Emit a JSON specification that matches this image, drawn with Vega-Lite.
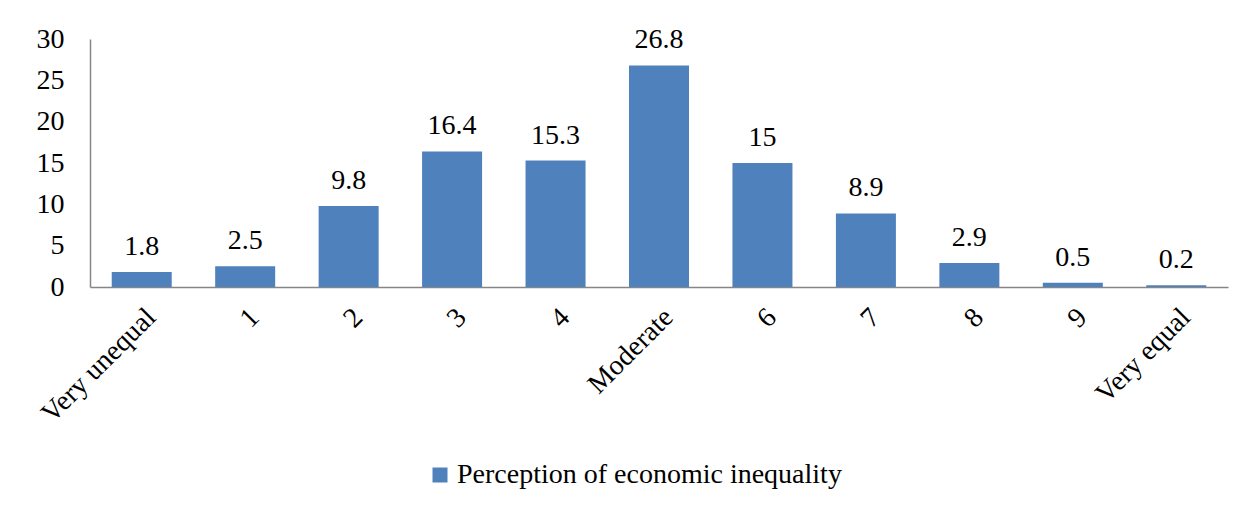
{
  "$schema": "https://vega.github.io/schema/vega-lite/v6.json",
  "autosize": "none",
  "width": 1138,
  "height": 248,
  "padding": {"left": 90, "top": 39, "right": 27, "bottom": 223},
  "background": "white",
  "config": {
    "font": "Liberation Serif",
    "view": {"stroke": null},
    "text": {"font": "Liberation Serif"},
    "axis": {"labelFont": "Liberation Serif", "labelColor": "black", "domainColor": "#868686", "grid": false, "ticks": false},
    "legend": {"labelFont": "Liberation Serif"}
  },
  "data": {
    "values": [
      {"category": "Very unequal", "value": 1.8, "series": "Perception of economic inequality"},
      {"category": "1", "value": 2.5, "series": "Perception of economic inequality"},
      {"category": "2", "value": 9.8, "series": "Perception of economic inequality"},
      {"category": "3", "value": 16.4, "series": "Perception of economic inequality"},
      {"category": "4", "value": 15.3, "series": "Perception of economic inequality"},
      {"category": "Moderate", "value": 26.8, "series": "Perception of economic inequality"},
      {"category": "6", "value": 15, "series": "Perception of economic inequality"},
      {"category": "7", "value": 8.9, "series": "Perception of economic inequality"},
      {"category": "8", "value": 2.9, "series": "Perception of economic inequality"},
      {"category": "9", "value": 0.5, "series": "Perception of economic inequality"},
      {"category": "Very equal", "value": 0.2, "series": "Perception of economic inequality"}
    ]
  },
  "encoding": {
    "x": {
      "field": "category", "type": "nominal", "sort": null,
      "scale": {"paddingInner": 0.42, "paddingOuter": 0.21},
      "axis": {"title": null, "labelAngle": -45, "labelAlign": "right", "labelBaseline": "top", "labelFontSize": 28, "labelPadding": 16, "domainWidth": 1.5}
    },
    "y": {
      "field": "value", "type": "quantitative",
      "scale": {"domain": [0, 30], "nice": false},
      "axis": {"title": null, "values": [0, 5, 10, 15, 20, 25, 30], "labelFontSize": 28, "labelPadding": 26, "domainWidth": 1.5, "labelBaseline": "middle"}
    }
  },
  "layer": [
    {
      "mark": {"type": "bar"},
      "encoding": {
        "color": {
          "field": "series", "type": "nominal",
          "scale": {"range": ["#4F81BD"]},
          "legend": {"title": null, "orient": "none", "legendX": 336, "legendY": 422, "labelFontSize": 28, "labelColor": "black", "symbolType": "square", "symbolSize": 225, "symbolStrokeWidth": 0, "labelOffset": 3, "labelLimit": 700}
        }
      }
    },
    {
      "mark": {"type": "text", "baseline": "alphabetic", "dy": -17, "fontSize": 28, "color": "black", "font": "Liberation Serif"},
      "encoding": {"text": {"field": "value", "type": "quantitative"}}
    }
  ]
}
